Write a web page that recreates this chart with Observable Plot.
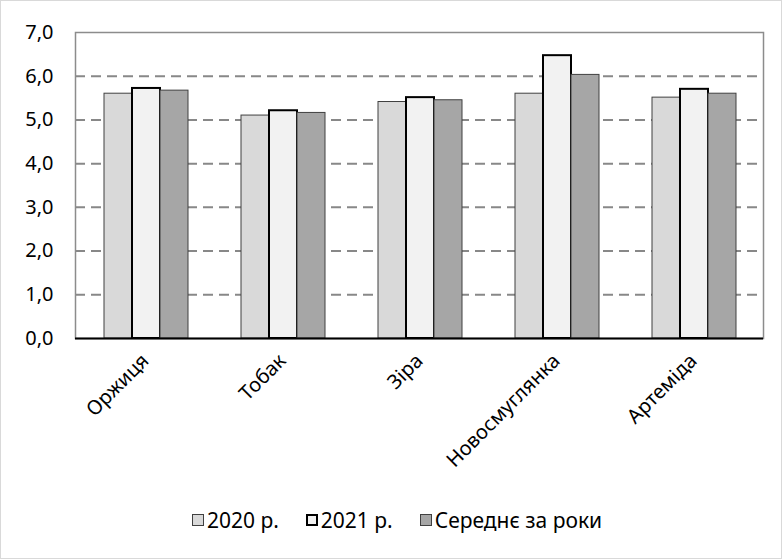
<!DOCTYPE html>
<html>
<head>
<meta charset="utf-8">
<script src="https://cdn.jsdelivr.net/npm/d3@7"></script>
<script src="https://cdn.jsdelivr.net/npm/@observablehq/plot@0.6"></script>
<style>
  html, body { margin: 0; padding: 0; background: #fff; }
  #wrap { position: relative; width: 780px; height: 557px; border: 1px solid #d9d9d9; font-family: "Noto Sans", sans-serif; }
  #back, #front, #over { position: absolute; left: 0; top: 0; }
  #legend { position: absolute; top: 505px; left: 6px; width: 780px; display: flex; justify-content: center; gap: 27px; font-size: 21px; color: #000; }
  .item { display: flex; align-items: center; gap: 3px; }
  .sw { width: 12px; height: 12px; box-sizing: border-box; }
</style>
</head>
<body>
<div id="wrap"><div id="back"></div><div id="front"></div><div id="over"></div><div id="legend"></div></div>
<script>
const categories = ["Оржиця", "Тобак", "Зіра", "Новосмуглянка", "Артеміда"];
const seriesNames = ["2020 р.", "2021 р.", "Середнє за роки"];
const values2020 = [5.60, 5.10, 5.41, 5.60, 5.51];
const values2021 = [5.72, 5.21, 5.51, 6.47, 5.70];
const valuesAvg  = [5.67, 5.16, 5.45, 6.03, 5.60];
const yTicks = [0, 1, 2, 3, 4, 5, 6, 7];
const gridTicks = [1, 2, 3, 4, 5, 6];

const fills = ["#d9d9d9", "#f2f2f2", "#a6a6a6"];
const strokes = ["#404040", "#000000", "#404040"];
const strokeWidths = [1, 2, 1];

const seriesValues = [values2020, values2021, valuesAvg];
const rows = [];
categories.forEach((c, i) => seriesNames.forEach((s, j) => rows.push({category: c, series: s, value: seriesValues[j][i]})));

const fmt = d => d.toFixed(1).replace(".", ",");

const W = 780, H = 492, mL = 74, mR = 18, mT = 31, mB = 155, pInner = 0.38, pOuter = 0.19;
const font = {fontFamily: "Noto Sans, sans-serif", fontSize: "20px", color: "#000", background: "transparent"};
const dims = {width: W, height: H, marginLeft: mL, marginRight: mR, marginTop: mT, marginBottom: mB, style: font};

// Back layer: frame, dashed grid, axes (category band scale)
const back = Plot.plot({
  ...dims,
  x: {domain: categories, paddingInner: pInner, paddingOuter: pOuter, label: null, tickRotate: -45, tickSize: 0, tickPadding: 19},
  y: {domain: [0, 7], ticks: yTicks, tickFormat: fmt, tickSize: 0, tickPadding: 22, label: null},
  marks: [
    Plot.ruleY(gridTicks, {stroke: "#888", strokeWidth: 2, strokeDasharray: "10,6"}),
    Plot.frame({stroke: "#8c8c8c", strokeWidth: 1.5})
  ]
});
document.getElementById("back").appendChild(back);

// Middle layer: grouped bars (faceted by category)
const barMarks = seriesNames.map((s, j) => Plot.barY(rows.filter(r => r.series === s), {
  fx: "category", x: "series", y: "value",
  fill: fills[j], stroke: strokes[j], strokeWidth: strokeWidths[j]
}));
const front = Plot.plot({
  ...dims,
  fx: {domain: categories, paddingInner: pInner, paddingOuter: pOuter, axis: null, label: null},
  x: {domain: seriesNames, padding: 0, axis: null},
  y: {domain: [0, 7], axis: null},
  marks: barMarks
});
document.getElementById("front").appendChild(front);

// Top layer: black base line
const over = Plot.plot({
  ...dims,
  x: {domain: categories, axis: null},
  y: {domain: [0, 7], axis: null},
  marks: [Plot.ruleY([0], {stroke: "#000", strokeWidth: 2})]
});
document.getElementById("over").appendChild(over);

const legend = document.getElementById("legend");
seriesNames.forEach((s, j) => {
  const it = document.createElement("div"); it.className = "item";
  const sw = document.createElement("div"); sw.className = "sw";
  sw.style.background = fills[j];
  sw.style.border = (j === 1 ? "2px solid #000" : "1px solid #404040");
  const t = document.createElement("span"); t.textContent = s;
  it.appendChild(sw); it.appendChild(t); legend.appendChild(it);
});
</script>
</body>
</html>
